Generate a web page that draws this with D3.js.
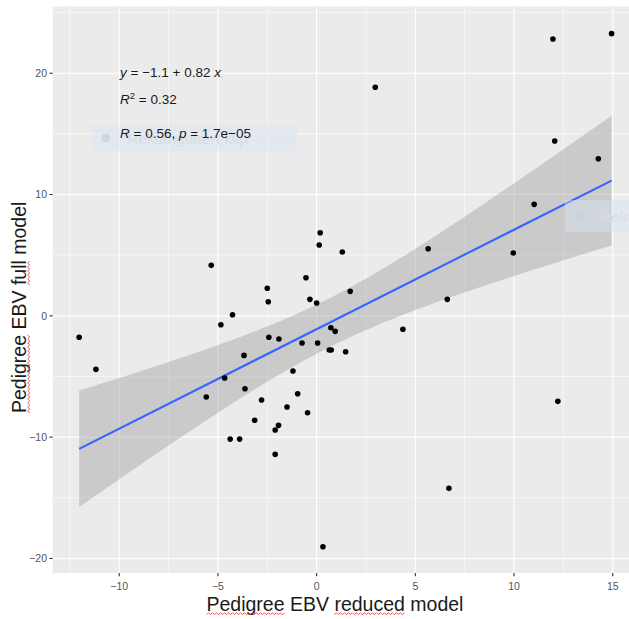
<!DOCTYPE html>
<html>
<head>
<meta charset="utf-8">
<script src="https://cdn.jsdelivr.net/npm/d3@7"></script>
<style>
  html, body { margin: 0; padding: 0; background: #ffffff; }
  svg { display: block; font-family: "Liberation Sans", Arial, sans-serif; }
</style>
</head>
<body>
<svg id="chart" width="629" height="619"></svg>
<script>
// Pedigree EBV: reduced model (x) versus full model (y), one value per animal
const reducedEBV = [
  -12.03, -11.18, -5.34, -4.85, -4.26, -4.66, -5.59, -3.68, -3.63, -4.38,
  -3.90, -3.14, -2.79, -2.50, -2.45, -2.42, -1.91, -2.10, -1.93, -2.10,
  -1.50, -0.96, -1.20, -0.46, -0.74, -0.54, -0.34, 0.00, 0.13, 0.18,
  1.30, 1.70, 0.05, 0.72, 0.94, 0.64, 0.74, 1.47, 2.97, 11.97,
  14.94, 12.06, 14.27, 11.02, 5.65, 9.96, 6.62, 4.37, 12.22, 6.70,
  0.32
];
const fullEBV = [
  -1.77, -4.41, 4.16, -0.73, 0.09, -5.13, -6.69, -3.26, -6.01, -10.16,
  -10.16, -8.61, -6.94, 2.27, 1.16, -1.77, -1.91, -9.41, -9.03, -11.42,
  -7.52, -6.42, -4.55, -7.99, -2.24, 3.14, 1.36, 1.06, 5.84, 6.85,
  5.26, 2.02, -2.24, -0.98, -1.28, -2.82, -2.82, -2.96, 18.84, 22.82,
  23.26, 14.41, 12.95, 9.19, 5.53, 5.18, 1.36, -1.11, -7.05, -14.22,
  -19.04
];

// Fitted regression reported on the chart
const intercept = -1.1;
const slope = 0.82;

const xTicks = [-10, -5, 0, 5, 10, 15];
const yTicks = [-20, -10, 0, 10, 20];
const xMinor = [-12.5, -7.5, -2.5, 2.5, 7.5, 12.5];
const yMinor = [-15, -5, 5, 15, 25];

const xTitle = "Pedigree EBV reduced model";
const yTitle = "Pedigree EBV full model";
const clipLabel = "Rektangulært klip";

const svg = d3.select("#chart");

const panel = { left: 52.7, right: 639, top: 6.5, bottom: 573 };
const x = d3.scaleLinear().domain([-13.37, 16.33]).range([panel.left, panel.right]);
const y = d3.scaleLinear().domain([-21.2, 25.5]).range([panel.bottom, panel.top]);

// panel background
svg.append("rect")
  .attr("x", panel.left).attr("y", panel.top)
  .attr("width", panel.right - panel.left).attr("height", panel.bottom - panel.top)
  .attr("fill", "#EBEBEB");

const grid = svg.append("g");
grid.selectAll(".vminor").data(xMinor).join("line")
  .attr("x1", d => x(d)).attr("x2", d => x(d))
  .attr("y1", panel.top).attr("y2", panel.bottom)
  .attr("stroke", "#fff").attr("stroke-width", 0.55);
grid.selectAll(".hminor").data(yMinor).join("line")
  .attr("y1", d => y(d)).attr("y2", d => y(d))
  .attr("x1", panel.left).attr("x2", panel.right)
  .attr("stroke", "#fff").attr("stroke-width", 0.55);
grid.selectAll(".vmajor").data(xTicks).join("line")
  .attr("x1", d => x(d)).attr("x2", d => x(d))
  .attr("y1", panel.top).attr("y2", panel.bottom)
  .attr("stroke", "#fff").attr("stroke-width", 1.1);
grid.selectAll(".hmajor").data(yTicks).join("line")
  .attr("y1", d => y(d)).attr("y2", d => y(d))
  .attr("x1", panel.left).attr("x2", panel.right)
  .attr("stroke", "#fff").attr("stroke-width", 1.1);

// 95% confidence band around the regression line
const n = reducedEBV.length;
const mx = d3.mean(reducedEBV), my = d3.mean(fullEBV);
let sxx = 0, sxy = 0;
for (let i = 0; i < n; i++) {
  sxx += (reducedEBV[i] - mx) ** 2;
  sxy += (reducedEBV[i] - mx) * (fullEBV[i] - my);
}
const b1 = sxy / sxx, b0 = my - b1 * mx;
let sse = 0;
for (let i = 0; i < n; i++) sse += (fullEBV[i] - (b0 + b1 * reducedEBV[i])) ** 2;
const sRes = Math.sqrt(sse / (n - 2));
const tCrit = 2.0096; // t(0.975, 49)

const [xLo, xHi] = d3.extent(reducedEBV);
const steps = d3.range(81).map(i => xLo + (xHi - xLo) * i / 80);
const band = steps.map(v => {
  const fit = intercept + slope * v;
  const se = sRes * Math.sqrt(1 / n + (v - mx) ** 2 / sxx);
  return { v, lo: fit - tCrit * se, hi: fit + tCrit * se };
});

svg.append("path")
  .datum(band)
  .attr("d", d3.area().x(d => x(d.v)).y0(d => y(d.lo)).y1(d => y(d.hi)))
  .attr("fill", "#999999").attr("fill-opacity", 0.4);

svg.append("path")
  .datum([xLo, xHi])
  .attr("d", d3.line().x(d => x(d)).y(d => y(intercept + slope * d)))
  .attr("stroke", "#3366FF").attr("stroke-width", 2.1).attr("fill", "none");

// points
svg.append("g").selectAll("circle")
  .data(d3.range(n))
  .join("circle")
  .attr("cx", i => x(reducedEBV[i]))
  .attr("cy", i => y(fullEBV[i]))
  .attr("r", 2.8)
  .attr("fill", "#000");

// faint snipping-tool overlays
function ghost(gx, gy, w, h) {
  const g = svg.append("g");
  g.append("rect").attr("x", gx).attr("y", gy).attr("width", w).attr("height", h)
    .attr("fill", "#d8e4f2").attr("fill-opacity", 0.45);
  g.append("circle").attr("cx", gx + 14).attr("cy", gy + h / 2).attr("r", 4.5)
    .attr("fill", "#c9d2dc").attr("fill-opacity", 0.8);
  g.append("text").attr("x", gx + 35).attr("y", gy + h / 2 + 5.5)
    .attr("font-size", 15.5).attr("fill", "#d6dee8").text(clipLabel);
}
ghost(92, 125, 205, 26);
ghost(565, 200, 80, 32);

// regression statistics
const ann = svg.append("g").attr("font-size", 13.5).attr("fill", "#1a1a1a");
const t1 = ann.append("text").attr("x", 120).attr("y", 76.5);
t1.append("tspan").attr("font-style", "italic").text("y");
t1.append("tspan").text(" = −1.1 + 0.82 ");
t1.append("tspan").attr("font-style", "italic").text("x");
const t2 = ann.append("text").attr("x", 120).attr("y", 104);
t2.append("tspan").attr("font-style", "italic").text("R");
t2.append("tspan").attr("font-size", 9.5).attr("dy", -5.5).text("2");
t2.append("tspan").attr("dy", 5.5).text(" = 0.32");
const t3 = ann.append("text").attr("x", 120).attr("y", 137.5);
t3.append("tspan").attr("font-style", "italic").text("R");
t3.append("tspan").text(" = 0.56, ");
t3.append("tspan").attr("font-style", "italic").text("p");
t3.append("tspan").text(" = 1.7e−05");

// axes: ticks and labels
const axisG = svg.append("g");
axisG.selectAll(".xt").data(xTicks).join("line")
  .attr("x1", d => x(d)).attr("x2", d => x(d))
  .attr("y1", panel.bottom).attr("y2", panel.bottom + 3.3)
  .attr("stroke", "#333").attr("stroke-width", 1.1);
axisG.selectAll(".xl").data(xTicks).join("text")
  .attr("x", d => x(d)).attr("y", 589.5)
  .attr("text-anchor", "middle").attr("font-size", 10.5).attr("fill", "#555")
  .text(d => d < 0 ? "−" + Math.abs(d) : String(d));
axisG.selectAll(".yt").data(yTicks).join("line")
  .attr("y1", d => y(d)).attr("y2", d => y(d))
  .attr("x1", panel.left - 3.3).attr("x2", panel.left)
  .attr("stroke", "#333").attr("stroke-width", 1.1);
axisG.selectAll(".yl").data(yTicks).join("text")
  .attr("x", 47).attr("y", d => y(d) + 3.7)
  .attr("text-anchor", "end").attr("font-size", 10.5).attr("fill", "#555")
  .text(d => d < 0 ? "−" + Math.abs(d) : String(d));

// wavy spell-check underline under a word span of a title
function squiggle(g, x0, x1, yy) {
  const pts = [];
  const step = 2;
  for (let k = 0, px = x0; px <= x1; k++, px += step) pts.push([px, yy + (k % 2 ? -1 : 1)]);
  g.append("path").attr("d", d3.line()(pts))
    .attr("fill", "none").attr("stroke", "#e84a4a").attr("stroke-width", 0.9);
}
function titleWithMarks(g, label, words) {
  const t = g.append("text").attr("x", 0).attr("y", 0)
    .attr("font-size", 19.5).attr("fill", "#1a1a1a").text(label);
  const node = t.node();
  words.forEach(w => {
    const idx = label.indexOf(w);
    const a = node.getStartPositionOfChar(idx).x;
    const b = node.getEndPositionOfChar(idx + w.length - 1).x;
    squiggle(g, a, b, 3.2);
  });
}
titleWithMarks(svg.append("g").attr("transform", "translate(206.5,610.5)"), xTitle, ["Pedigree", "reduced"]);
titleWithMarks(svg.append("g").attr("transform", "translate(25.5,413) rotate(-90)"), yTitle, ["Pedigree", "full"]);
</script>
</body>
</html>
